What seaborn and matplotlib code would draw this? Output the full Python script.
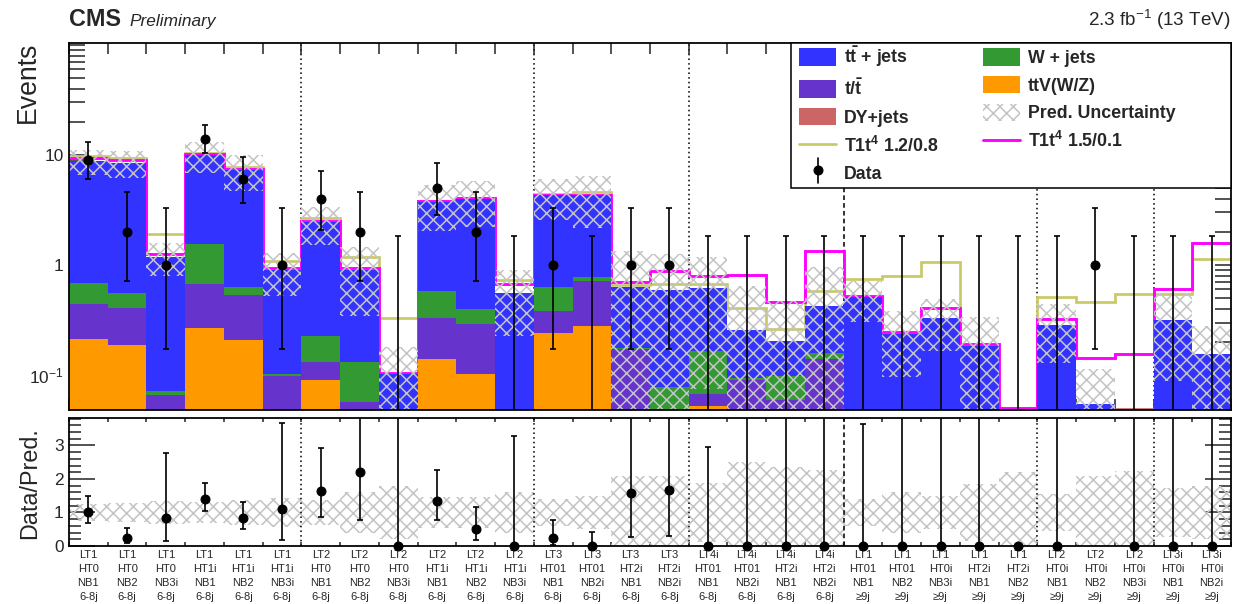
import numpy as np
import pandas as pd
import matplotlib
matplotlib.use("Agg")
import matplotlib.pyplot as plt
import matplotlib.transforms as mtrans
import seaborn as sns
from matplotlib.patches import Patch, Rectangle
from matplotlib.lines import Line2D
from matplotlib.legend_handler import HandlerLine2D
from matplotlib.ticker import FixedLocator, FixedFormatter, NullFormatter, MultipleLocator

# ---------------- data ----------------
bin_labels = [
    "LT1\nHT0\nNB1\n6-8j", "LT1\nHT0\nNB2\n6-8j", "LT1\nHT0\nNB3i\n6-8j",
    "LT1\nHT1i\nNB1\n6-8j", "LT1\nHT1i\nNB2\n6-8j", "LT1\nHT1i\nNB3i\n6-8j",
    "LT2\nHT0\nNB1\n6-8j", "LT2\nHT0\nNB2\n6-8j", "LT2\nHT0\nNB3i\n6-8j",
    "LT2\nHT1i\nNB1\n6-8j", "LT2\nHT1i\nNB2\n6-8j", "LT2\nHT1i\nNB3i\n6-8j",
    "LT3\nHT01\nNB1\n6-8j", "LT3\nHT01\nNB2i\n6-8j", "LT3\nHT2i\nNB1\n6-8j",
    "LT3\nHT2i\nNB2i\n6-8j",
    "LT4i\nHT01\nNB1\n6-8j", "LT4i\nHT01\nNB2i\n6-8j", "LT4i\nHT2i\nNB1\n6-8j",
    "LT4i\nHT2i\nNB2i\n6-8j",
    "LT1\nHT01\nNB1\n≥9j", "LT1\nHT01\nNB2\n≥9j", "LT1\nHT0i\nNB3i\n≥9j",
    "LT1\nHT2i\nNB1\n≥9j", "LT1\nHT2i\nNB2\n≥9j",
    "LT2\nHT0i\nNB1\n≥9j", "LT2\nHT0i\nNB2\n≥9j", "LT2\nHT0i\nNB3i\n≥9j",
    "LT3i\nHT0i\nNB1\n≥9j", "LT3i\nHT0i\nNB2i\n≥9j",
]

ttbar = [8.11, 7.95, 1.12, 8.45, 6.67, 0.80, 2.23, 0.77, 0.10, 3.12,
         3.60, 0.56, 3.67, 3.53, 0.46, 0.52, 0.457, 0.163, 0.105, 0.263,
         0.505, 0.236, 0.327, 0.180, 0.0, 0.285, 0.052, 0.02, 0.316, 0.152]
wjets = [0.246, 0.146, 0.006, 0.874, 0.109, 0.005, 0.094, 0.073, 0.0, 0.25,
         0.105, 0.0, 0.258, 0.064, 0.006, 0.076, 0.098, 0.004, 0.038, 0.020,
         0.0, 0.0, 0.0, 0.0, 0.0, 0.0, 0.0, 0.0, 0.0, 0.0]
singletop = [0.228, 0.22, 0.064, 0.409, 0.322, 0.095, 0.04, 0.055, 0.0, 0.193,
             0.19, 0.0, 0.137, 0.427, 0.169, 0.0, 0.015, 0.088, 0.057, 0.137,
             0.0, 0.0, 0.0, 0.0, 0.0, 0.0, 0.0, 0.0, 0.0, 0.0]
ttv = [0.212, 0.184, 0.0, 0.267, 0.204, 0.0, 0.089, 0.0, 0.0, 0.137,
       0.1, 0.0, 0.24, 0.279, 0.0, 0.0, 0.05, 0.0, 0.0, 0.0,
       0.0, 0.0, 0.0, 0.0, 0.0, 0.0, 0.0, 0.0, 0.0, 0.0]
dyjets = [0.002, 0.002, 0.002, 0.002, 0.002, 0.002, 0.002, 0.002, 0.002, 0.002,
          0.002, 0.002, 0.002, 0.002, 0.002, 0.002, 0.002, 0.002, 0.002, 0.002,
          0.002, 0.002, 0.002, 0.002, 0.0, 0.002, 0.002, 0.002, 0.002, 0.002]

rel_unc = [0.25, 0.27, 0.33, 0.32, 0.36, 0.42, 0.38, 0.62, 0.78, 0.45,
           0.45, 0.60, 0.40, 0.50, 1.10, 1.10, 0.88, 1.50, 1.35, 1.27,
           0.40, 0.60, 0.50, 0.85, 1.22, 0.55, 1.10, 1.25, 0.72, 0.80]

sig_a = [9.8, 9.3, 1.91, 10.4, 7.7, 1.09, 2.66, 1.19, 0.33, 3.85,
         4.05, 0.73, 4.4, 4.58, 0.66, 0.67, 0.67, 0.406, 0.262, 0.584,
         0.74, 0.79, 1.06, 0.0, 0.0, 0.515, 0.458, 0.545, 0.55, 1.13]
sig_b = [9.3, 8.9, 1.26, 10.3, 7.5, 0.93, 2.53, 0.93, 0.105, 3.8,
         4.05, 0.67, 4.35, 4.35, 0.706, 0.89, 0.80, 0.81, 0.458, 1.35,
         0.52, 0.248, 0.41, 0.19, 0.0, 0.32, 0.144, 0.155, 0.60, 1.57]

data_obs = [9, 2, 1, 14, 6, 1, 4, 2, 0, 5, 2, 0, 1, 0, 1, 1, 0, 0, 0, 0,
            0, 0, 0, 0, 0, 0, 1, 0, 0, 0]
data_lo = [6.06, 0.708, 0.173, 10.31, 3.62, 0.173, 2.09, 0.708, 0.0, 2.84,
           0.708, 0.0, 0.173, 0.0, 0.173, 0.173, 0.0, 0.0, 0.0, 0.0,
           0.0, 0.0, 0.0, 0.0, 0.0, 0.0, 0.173, 0.0, 0.0, 0.0]
data_hi = [13.06, 4.64, 3.30, 18.83, 9.58, 3.30, 7.16, 4.64, 1.84, 8.38,
           4.64, 1.84, 3.30, 1.84, 3.30, 3.30, 1.84, 1.84, 1.84, 1.84,
           1.84, 1.84, 1.84, 1.84, 1.84, 1.84, 3.30, 1.84, 1.84, 1.84]

proc_names = ["tt", "W", "t", "ttV", "DY"]
proc_colors = ["#3333ff", "#339933", "#6633cc", "#ff9900", "#cc6666"]
dotted_edges = [6, 12, 16, 25, 28]
dashed_edges = [20]

# ---------------- style ----------------
sns.set_theme(style="ticks")
plt.rcParams["font.family"] = ["Liberation Sans", "DejaVu Sans"]
plt.rcParams["mathtext.fontset"] = "custom"
plt.rcParams["mathtext.rm"] = "Liberation Sans"
plt.rcParams["mathtext.it"] = "Liberation Sans:italic"
plt.rcParams["mathtext.bf"] = "Liberation Sans:bold"
plt.rcParams["hatch.linewidth"] = 1.4

DPI = 80
W, H = 1247, 604
fig = plt.figure(figsize=(W / DPI, H / DPI), dpi=DPI)
fig.patch.set_facecolor("white")


def rect(x0, y0, x1, y1):
    return [x0 / W, 1 - y1 / H, (x1 - x0) / W, (y1 - y0) / H]


ax = fig.add_axes(rect(69, 43, 1231, 410))
rax = fig.add_axes(rect(69, 418, 1231, 546))

nb = len(bin_labels)
edges = np.arange(nb + 1)
centers = edges[:-1] + 0.5
YMIN, YMAX = 0.0481, 104.0
RMAX = 3.82
HATCH = "xx"

comps = [ttbar, wjets, singletop, ttv, dyjets]
df = pd.DataFrame({
    "bin": np.tile(centers, len(proc_names)),
    "proc": np.repeat(proc_names, nb),
    "w": np.concatenate([np.array(c, float) for c in comps]),
})
total = np.sum([np.array(c, float) for c in comps], axis=0)
runc = np.array(rel_unc)

# separators behind everything
for e in dotted_edges:
    ax.axvline(e, color="black", lw=1.4, ls=(0, (1, 2)), zorder=0.3)
    rax.axvline(e, color="black", lw=1.4, ls=(0, (1, 2)), zorder=3)
for e in dashed_edges:
    ax.axvline(e, color="black", lw=1.4, ls=(0, (3, 2)), zorder=0.3)
    rax.axvline(e, color="black", lw=1.4, ls=(0, (3, 2)), zorder=3)

# signal lines (drawn before the stack, as in the original)
ax.stairs(np.maximum(np.array(sig_a), YMIN * 1.04), edges, color="#c8c864", lw=2.4,
          baseline=None, zorder=0.6)
ax.stairs(np.maximum(np.array(sig_b), YMIN * 1.04), edges, color="#ff00ff", lw=2.6,
          baseline=None, zorder=0.7)

sns.histplot(data=df, x="bin", weights="w", hue="proc", hue_order=proc_names,
             multiple="stack", bins=nb, binrange=(0, nb), element="step", fill=True,
             palette=dict(zip(proc_names, proc_colors)), alpha=1, linewidth=0,
             legend=False, ax=ax)
ax.set_yscale("log")

# DY thin line at the floor
ax.stairs(np.full(nb, YMIN * 1.025), edges, color="#cc6666", lw=1.5,
          baseline=None, zorder=0.65)

# uncertainty band (upper)
HATCH_C = "#c4c4c4"
up_hi = total * (1 + runc)
up_lo = np.maximum(total * (1 - runc), 1e-4)
ok = total > 0
ax.bar(centers[ok], (up_hi - up_lo)[ok], bottom=up_lo[ok], width=1.0, fill=False,
       hatch=HATCH, edgecolor=HATCH_C, linewidth=0, zorder=2.2)

# data
n = np.array(data_obs, float)
lo = np.array(data_lo)
hi = np.array(data_hi)
pos = n > 0
ax.errorbar(centers[pos], n[pos], yerr=[n[pos] - lo[pos], hi[pos] - n[pos]],
            fmt="o", color="black", ms=8, lw=1.5, capsize=3, capthick=1.5, zorder=5)
zero = ~pos
ax.errorbar(centers[zero], hi[zero], yerr=[hi[zero] - 1e-4, np.zeros(zero.sum())],
            fmt="none", ecolor="black", lw=1.5, capsize=3, capthick=1.5, zorder=5)

ax.set_xlim(0, nb)
ax.set_ylim(YMIN, YMAX)
ax.set_xlabel("")
ax.set_ylabel("")

# ---------------- ratio panel ----------------
rlo = np.clip(1 - runc, 0, None)
rhi = 1 + runc
rax.bar(centers, rhi - rlo, bottom=rlo, width=1.0, fill=False, hatch=HATCH,
        edgecolor=HATCH_C, linewidth=0, zorder=2)

safe = np.where(total > 0, total, 1.0)
ratio = np.where(total > 0, n / safe, 0.0)
r_elo = (n - lo) / safe
r_ehi = (hi - n) / safe
show = ratio <= RMAX
werr = show & (total > 0)
rax.errorbar(centers[werr], ratio[werr], yerr=[r_elo[werr], r_ehi[werr]], fmt="none",
             ecolor="black", lw=1.5, capsize=3, capthick=1.5, zorder=5)
rax.plot(centers[show], ratio[show], "o", color="black", ms=8, zorder=6, clip_on=False)

rax.set_xlim(0, nb)
rax.set_ylim(0, RMAX)

# ---------------- axes cosmetics ----------------
for a in (ax, rax):
    for s in a.spines.values():
        s.set_linewidth(1.6)
        s.set_color("black")
    a.set_facecolor("white")

ax.xaxis.set_major_locator(FixedLocator(edges))
ax.xaxis.set_major_formatter(NullFormatter())
ax.yaxis.set_major_locator(FixedLocator([0.1, 1, 10]))
ax.yaxis.set_major_formatter(FixedFormatter(["10$^{-1}$", "1", "10"]))
minors = [k * 10.0 ** e for e in (-2, -1, 0, 1) for k in range(2, 10)] + [100.0]
ax.yaxis.set_minor_locator(FixedLocator(minors))
ax.yaxis.set_minor_formatter(NullFormatter())
ax.tick_params(axis="x", which="major", direction="in", top=True, bottom=True,
               length=10, width=1.4)
ax.tick_params(axis="y", which="both", direction="in", left=True, right=True,
               length=14, width=1.4, labelsize=15.5, pad=5)

rax.xaxis.set_major_locator(FixedLocator(edges))
rax.xaxis.set_major_formatter(NullFormatter())
rax.tick_params(axis="x", which="major", direction="in", top=True, bottom=True,
                length=4, width=1.4)
rax.yaxis.set_major_locator(FixedLocator([0, 1, 2, 3]))
rax.yaxis.set_major_formatter(FixedFormatter(["0", "1", "2", "3"]))
rax.yaxis.set_minor_locator(MultipleLocator(0.2))
rax.tick_params(axis="y", which="major", direction="in", left=True, right=True,
                length=23, width=1.4, labelsize=15.5, pad=5)
rax.tick_params(axis="y", which="minor", direction="in", left=True, right=True,
                length=11, width=1.4)

# category labels under the bins: one text per line, 14 px apart
btrans = mtrans.blended_transform_factory(rax.transData, rax.transAxes)
row_px = [555, 569, 583, 597]
for c, lab in zip(centers, bin_labels):
    for ypx, part in zip(row_px, lab.split("\n")):
        rax.text(c, (546 - ypx) / 128.0, part, transform=btrans, ha="center",
                 va="center", fontsize=10)

# axis titles
fig.text(28 / W, 1 - 42 / H, "Events", rotation=90, ha="center", va="top", fontsize=24)
fig.text(30 / W, 1 - 427 / H, "Data/Pred.", rotation=90, ha="center", va="top",
         fontsize=21)

# header
fig.text(69 / W, 1 - 26 / H, "CMS", fontsize=21, fontweight="bold", ha="left",
         va="baseline")
fig.text(129 / W, 1 - 26 / H, "Preliminary", fontsize=15.5, fontstyle="italic",
         ha="left", va="baseline")
fig.text(1231 / W, 1 - 26 / H, "2.3 fb$^{-1}$ (13 TeV)", fontsize=17, ha="right",
         va="baseline")

# ---------------- legend ----------------
def ax_frac(px, py):
    return ((px - 69) / (1231 - 69), 1 - (py - 43) / (410 - 43))

x0, y0 = ax_frac(791, 43)
x1, y1 = ax_frac(1231, 187.7)
ax.add_patch(Rectangle((x0, y1), x1 - x0, y0 - y1, transform=ax.transAxes,
                       facecolor="white", edgecolor="black", lw=1.4, zorder=8,
                       clip_on=False))

h_tt = Patch(facecolor=proc_colors[0], edgecolor="none")
h_w = Patch(facecolor=proc_colors[1], edgecolor="none")
h_t = Patch(facecolor=proc_colors[2], edgecolor="none")
h_ttv = Patch(facecolor=proc_colors[3], edgecolor="none")
h_dy = Patch(facecolor=proc_colors[4], edgecolor="none")
h_unc = Patch(facecolor="white", edgecolor=HATCH_C, hatch=HATCH, lw=0)
h_a = Line2D([], [], color="#c8c864", lw=2.4)
h_b = Line2D([], [], color="#ff00ff", lw=2.6)
h_d = Line2D([], [], color="black", marker="o", ms=8, lw=1.5)


class VertBar(HandlerLine2D):
    def create_artists(self, legend, orig, xd, yd, width, height, fontsize, trans):
        cx = width / 2.0 - xd
        line = Line2D([cx, cx], [-0.2 * height, 1.2 * height], color="black",
                      lw=1.5, transform=trans)
        mk = Line2D([cx], [height / 2.0], marker="o", ms=8, color="black",
                    transform=trans)
        return [line, mk]


handles = [h_tt, h_t, h_dy, h_a, h_d, h_w, h_ttv, h_unc, h_b]
labs = [r"$\mathbf{t\bar{t}}$ + jets", r"t/$\mathbf{\bar{t}}$", "DY+jets",
        r"T1t$^{\mathbf{4}}$ 1.2/0.8", "Data",
        "W + jets", "ttV(W/Z)", "Pred. Uncertainty", r"T1t$^{\mathbf{4}}$ 1.5/0.1"]
lx, ly = ax_frac(799, 44)
leg = ax.legend(handles, labs, ncol=2, loc="upper left", bbox_to_anchor=(lx, ly),
                frameon=False, borderpad=0, borderaxespad=0,
                prop={"weight": "bold", "size": 16}, handlelength=2.1,
                handleheight=1.15, handletextpad=0.45, columnspacing=2.45,
                labelspacing=0.5, handler_map={h_d: VertBar()})
leg.set_zorder(9)

fig.savefig("out.png", dpi=DPI, facecolor="white")
